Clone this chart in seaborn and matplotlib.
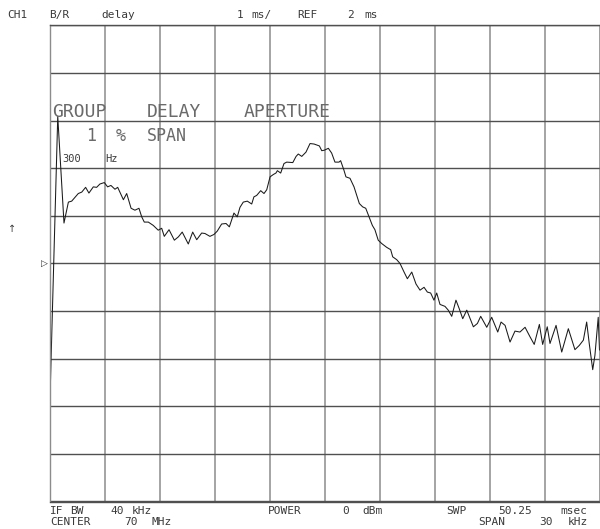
import numpy as np
import pandas as pd
import matplotlib
matplotlib.use("Agg")
import matplotlib.pyplot as plt
import seaborn as sns

# frequency offset from 70 MHz center (kHz) and group delay (ms)
freq_khz = [-14.97, -14.55, -14.21, -13.97, -13.79, -13.52, -13.43, -13.24, -13.03, -12.85,
            -12.61, -12.43, -12.25, -12.01, -11.83, -11.65, -11.43, -11.28, -10.97, -10.79,
            -10.55, -10.34, -10.12, -9.97, -9.83, -9.61, -9.34, -9.07, -8.88, -8.74,
            -8.48, -8.19, -7.97, -7.76, -7.43, -7.19, -6.97, -6.70, -6.52, -6.25,
            -6.03, -5.85, -5.61, -5.37, -5.19, -4.94, -4.76, -4.61, -4.43, -4.21,
            -3.97, -3.85, -3.70, -3.48, -3.30, -3.15, -2.97, -2.79, -2.65, -2.57,
            -2.39, -2.21, -2.06, -1.73, -1.55, -1.43, -1.24, -1.01, -0.79, -0.57,
            -0.28, -0.15, -0.01, 0.21, 0.39, 0.57, 0.79, 0.88, 1.06, 1.17,
            1.39, 1.61, 1.90, 2.08, 2.25, 2.43, 2.61, 2.75, 2.93, 3.12,
            3.39, 3.61, 3.72, 3.94, 4.12, 4.34, 4.52, 4.76, 4.99, 5.21,
            5.43, 5.61, 5.79, 5.97, 6.12, 6.30, 6.57, 6.75, 6.94, 7.17,
            7.35, 7.54, 7.76, 8.12, 8.34, 8.52, 8.85, 9.12, 9.45, 9.63,
            9.85, 10.12, 10.39, 10.66, 10.94, 11.21, 11.44, 11.72, 11.90, 12.15,
            12.30, 12.63, 12.94, 13.30, 13.66, 13.90, 14.12, 14.30, 14.44, 14.63,
            14.75, 14.93, 15.00]
delay_ms = [-0.80, 5.09, 2.85, 3.29, 3.31, 3.43, 3.47, 3.50, 3.60, 3.48,
            3.61, 3.60, 3.67, 3.70, 3.61, 3.64, 3.56, 3.60, 3.34, 3.47,
            3.16, 3.12, 3.16, 2.98, 2.87, 2.87, 2.80, 2.70, 2.74, 2.57,
            2.71, 2.49, 2.56, 2.66, 2.41, 2.66, 2.50, 2.64, 2.63, 2.57,
            2.61, 2.68, 2.83, 2.84, 2.77, 3.06, 2.98, 3.18, 3.29, 3.31,
            3.25, 3.40, 3.43, 3.53, 3.47, 3.55, 3.82, 3.87, 3.90, 3.95,
            3.90, 4.10, 4.13, 4.12, 4.25, 4.30, 4.25, 4.34, 4.52, 4.51,
            4.47, 4.37, 4.38, 4.42, 4.32, 4.13, 4.13, 4.16, 3.96, 3.82,
            3.79, 3.61, 3.26, 3.19, 3.16, 2.98, 2.80, 2.71, 2.49, 2.42,
            2.34, 2.29, 2.14, 2.08, 2.00, 1.82, 1.68, 1.82, 1.57, 1.44,
            1.50, 1.40, 1.38, 1.23, 1.38, 1.14, 1.10, 1.02, 0.89, 1.23,
            1.05, 0.84, 1.02, 0.67, 0.74, 0.89, 0.66, 0.87, 0.56, 0.77,
            0.70, 0.35, 0.58, 0.56, 0.66, 0.46, 0.30, 0.72, 0.30, 0.67,
            0.32, 0.70, 0.14, 0.63, 0.19, 0.28, 0.39, 0.77, 0.32, -0.23,
            0.07, 0.87, 0.18]

ref_ms = 2
scale_ms = 1
span_khz = 30

df = pd.DataFrame({"freq": freq_khz, "delay": delay_ms})

sns.set_style("white")
plt.rcParams["font.family"] = ["DejaVu Sans Mono", "DejaVu Sans"]

W, H = 600, 529
fig = plt.figure(figsize=(W / 100, H / 100), dpi=100)
ax = fig.add_axes([49.5 / W, 27.5 / H, 550 / W, 476 / H])

sns.lineplot(data=df, x="freq", y="delay", ax=ax, color="#1a1a1a",
             linewidth=0.75, estimator=None, sort=False)

ax.set_xlim(-span_khz / 2, span_khz / 2)
ax.set_ylim(ref_ms - 5 * scale_ms, ref_ms + 5 * scale_ms)
ax.set_xticks(np.linspace(-span_khz / 2, span_khz / 2, 11))
ax.set_yticks(np.arange(ref_ms - 5 * scale_ms, ref_ms + 5 * scale_ms + 0.1, scale_ms))
ax.xaxis.grid(True, color="#8c8c8c", linewidth=1.1)
ax.yaxis.grid(True, color="#505050", linewidth=1.0)
ax.set_axisbelow(True)
ax.tick_params(left=False, bottom=False, labelleft=False, labelbottom=False)
ax.set_xlabel("")
ax.set_ylabel("")
for s in ax.spines.values():
    s.set_color("#505050")
    s.set_linewidth(1.0)
ax.spines["left"].set_color("#8c8c8c")
ax.spines["right"].set_color("#8c8c8c")


def put(x, y, s, size=8, color="#3a3a3a"):
    fig.text(x / W, 1 - y / H, s, fontsize=size, color=color, ha="left", va="center")


# header
put(7, 15, "CH1")
put(49, 15, "B/R")
put(101, 15, "delay")
put(237, 15, "1")
put(251, 15, "ms/")
put(297, 15, "REF")
put(347, 15, "2")
put(364, 15, "ms")

# annotation inside the grid
big = "#6a6a6a"
put(52, 112, "GROUP", 13, big)
put(147, 112, "DELAY", 13, big)
put(244, 112, "APERTURE", 13, big)
put(86, 136, "1", 12, big)
put(116, 136, "%", 12, big)
put(147, 136, "SPAN", 12, big)
put(62, 159, "300", 7.5)
put(105, 159, "Hz", 7.5)

# footer
put(50, 511, "IF")
put(70, 511, "BW")
put(110, 511, "40")
put(132, 511, "kHz")
put(268, 511, "POWER")
put(342, 511, "0")
put(362, 511, "dBm")
put(446, 511, "SWP")
put(498, 511, "50.25")
put(560, 511, "msec")
put(50, 522, "CENTER")
put(124, 522, "70")
put(151, 522, "MHz")
put(478, 522, "SPAN")
put(539, 522, "30")
put(568, 522, "kHz")

# left side markers
fig.text(12 / W, 1 - 229 / H, "\u2191", fontsize=7, color="#3a3a3a",
         ha="center", va="center", family="DejaVu Sans")
fig.text(44 / W, 1 - 263 / H, "\u25b7", fontsize=6.5, color="#2a2a2a",
         ha="center", va="center", family="DejaVu Sans")

fig.savefig("out.png", dpi=100)
